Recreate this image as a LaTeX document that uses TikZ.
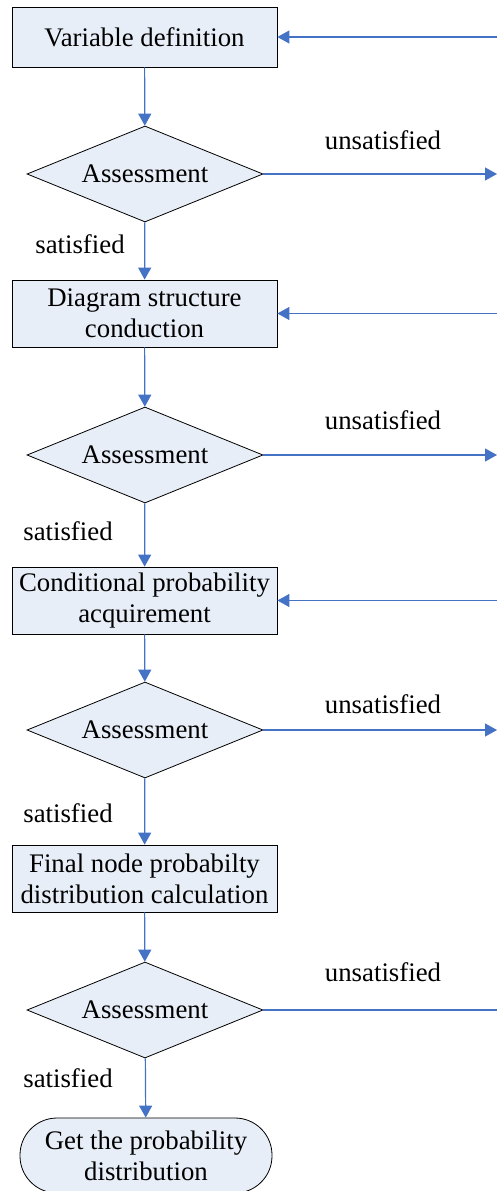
\documentclass[tikz,border=0pt]{standalone}
\usepackage{fontspec}
\setmainfont{Liberation Serif}
\usetikzlibrary{shapes.geometric,arrows.meta}
\definecolor{arrowblue}{RGB}{68,114,196}
\definecolor{boxfill}{RGB}{232,238,247}
\begin{document}
\begin{tikzpicture}[x=1pt,y=-1pt,
  every node/.style={font=\fontsize{26.8}{31}\selectfont},
  procbox/.style={draw=black,fill=boxfill,line width=0.8pt,minimum width=265pt,inner sep=0pt,align=center},
  decision/.style={diamond,aspect=2.46,draw=black,fill=boxfill,line width=0.8pt,minimum width=236pt,minimum height=96pt,inner sep=0pt},
  term/.style={draw=black,fill=boxfill,line width=0.8pt,rounded corners=37pt,minimum width=252pt,minimum height=75pt,inner sep=0pt,align=center},
  flow/.style={draw=arrowblue,line width=1.2pt,-{Triangle[length=12pt,width=13pt]}},
  plain/.style={draw=arrowblue,line width=1.2pt},
  lbl/.style={inner sep=0pt}]
\useasboundingbox (0,0) rectangle (497,1191);
\node[procbox,minimum height=60pt] (b1) at (144.5,37) {Variable definition};
\node[decision] (d1) at (145,174) {Assessment};
\node[procbox,minimum height=67pt] (b2) at (144.5,313.5) {Diagram structure\\conduction};
\node[decision] (d2) at (145,455) {Assessment};
\node[procbox,minimum height=67pt] (b3) at (144.5,600.5) {Conditional probability\\acquirement};
\node[decision] (d3) at (145,730) {Assessment};
\node[procbox,minimum height=67pt] (b4) at (144.5,878.5) {Final node probabilty\\distribution calculation};
\node[decision] (d4) at (145,1010) {Assessment};
\node[term] (t) at (146,1155.5) {Get the probability\\distribution};

\coordinate (r1) at (497,37);
\coordinate (r2) at (497,313.5);
\coordinate (r3) at (497,600.5);
\coordinate (o1) at (497,174);
\coordinate (o2) at (497,455);
\coordinate (o3) at (497,730);
\coordinate (o4) at (497,1010);

\draw[flow] (b1) -- (d1);
\draw[flow] (d1) -- (b2);
\draw[flow] (b2) -- (d2);
\draw[flow] (d2) -- (b3);
\draw[flow] (b3) -- (d3);
\draw[flow] (d3) -- (b4);
\draw[flow] (b4) -- (d4);
\draw[flow] (d4) -- (t);

\draw[flow] (r1) -- (b1);
\draw[flow] (r2) -- (b2);
\draw[flow] (r3) -- (b3);
\draw[flow] (d1) -- (o1);
\draw[flow] (d2) -- (o2);
\draw[flow] (d3) -- (o3);
\draw[plain] (d4) -- (o4);

\node[lbl] (u1) at (383,140) {unsatisfied};
\node[lbl] (u2) at (383,420) {unsatisfied};
\node[lbl] (u3) at (383,704) {unsatisfied};
\node[lbl] (u4) at (383,972) {unsatisfied};
\node[lbl] (s1) at (80,244) {satisfied};
\node[lbl] (s2) at (68,531) {satisfied};
\node[lbl] (s3) at (68,813) {satisfied};
\node[lbl] (s4) at (68,1078) {satisfied};
\end{tikzpicture}
\end{document}
